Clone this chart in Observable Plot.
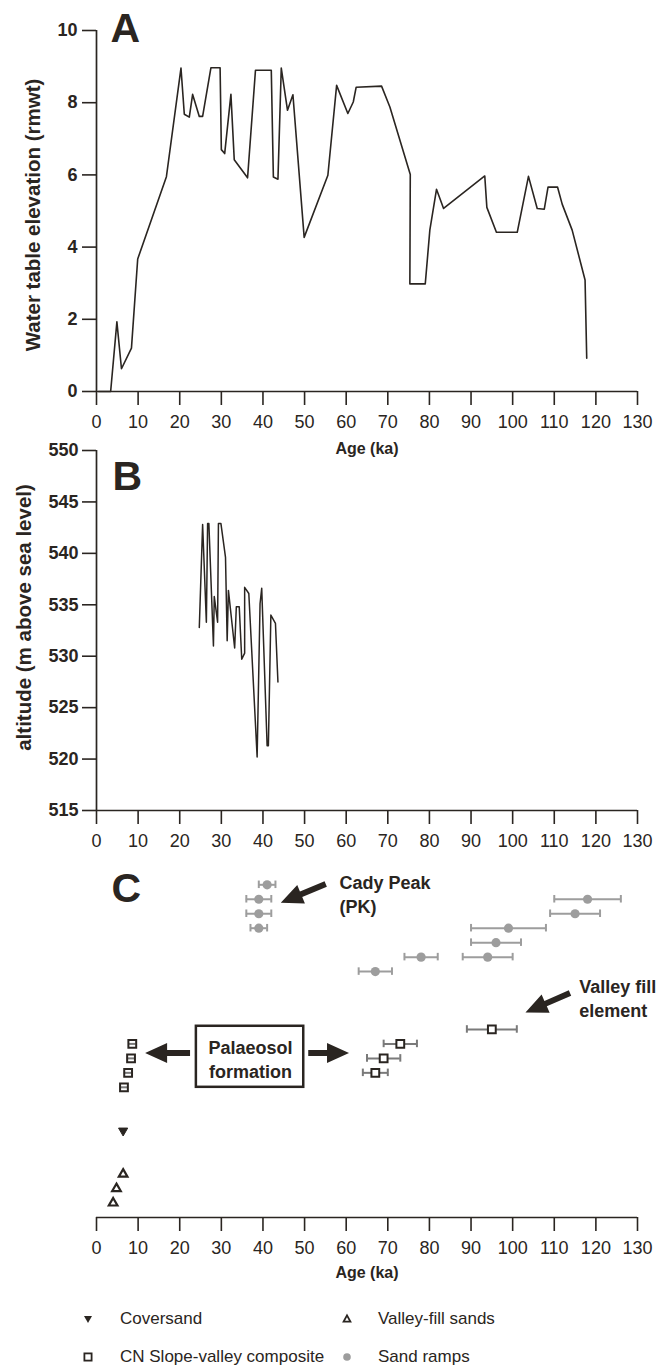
<!DOCTYPE html>
<html>
<head>
<meta charset="utf-8">
<script src="https://cdn.jsdelivr.net/npm/d3@7"></script>
<script src="https://cdn.jsdelivr.net/npm/@observablehq/plot@0.6"></script>
<style>
  body { margin: 0; background: #fff; }
  #fig { position: relative; width: 667px; height: 1367px; overflow: hidden;
         font-family: "Liberation Sans", Arial, sans-serif; color: #2a2521; background: #fff; }
  #fig > svg { position: absolute; left: 0; }
  .leg { position: absolute; height: 20px; display: flex; align-items: center; font-size: 17px; color: #2a2521; white-space: nowrap; }
</style>
</head>
<body>
<div id="fig"></div>
<script>
// ---------- DATA ----------
// Panel A: water table elevation (rmwt) vs age (ka)
const waterAge  = [0.5, 3.4, 4.9, 6.0, 8.4, 9.9, 16.8, 20.3, 21.1, 22.3, 23.1, 24.7, 25.5, 27.5, 29.7, 30.0, 30.8, 32.3, 33.1, 36.3, 38.2, 42.0, 42.5, 43.6, 44.4, 45.9, 47.2, 49.9, 55.6, 57.7, 60.4, 61.7, 62.4, 68.5, 70.5, 75.4, 75.3, 79.0, 80.1, 81.7, 83.4, 93.3, 93.8, 96.1, 101.1, 103.8, 105.9, 107.6, 108.5, 110.8, 111.9, 114.3, 117.4, 117.8];
const waterElev = [0, 0, 1.93, 0.63, 1.2, 3.67, 5.95, 8.96, 7.68, 7.6, 8.23, 7.62, 7.62, 8.97, 8.97, 6.7, 6.59, 8.23, 6.42, 5.92, 8.9, 8.9, 5.94, 5.88, 8.96, 7.79, 8.22, 4.27, 5.99, 8.48, 7.7, 8.02, 8.43, 8.46, 7.88, 6.01, 2.98, 2.98, 4.47, 5.6, 5.07, 5.97, 5.1, 4.41, 4.41, 5.96, 5.07, 5.05, 5.66, 5.66, 5.19, 4.47, 3.09, 0.92];

// Panel B: altitude (m a.s.l.) vs age (ka)
const altAge = [24.7, 25.5, 26.4, 26.7, 27.0, 28.1, 28.3, 29.1, 29.3, 29.9, 31.0, 31.4, 31.7, 33.2, 33.6, 34.3, 34.9, 35.6, 35.6, 36.6, 38.6, 39.3, 39.7, 41.0, 41.3, 41.9, 43.0, 43.6];
const altM   = [532.8, 542.8, 533.3, 542.9, 542.9, 531.0, 535.8, 533.3, 542.9, 542.9, 539.6, 531.5, 536.4, 530.8, 534.8, 534.8, 529.7, 530.3, 536.7, 536.1, 520.2, 535.1, 536.6, 521.3, 521.3, 534.0, 533.2, 527.5];

// Panel C: ages (ka) with errors, and sample row (order from top)
const sandRampAge = [41, 39, 39, 39, 118, 115, 99, 96, 94, 78, 67];
const sandRampErr = [2, 3, 3, 2, 8, 6, 9, 6, 6, 4, 4];
const sandRampRow = [0, 1, 2, 3, 1, 2, 3, 4, 5, 5, 6];

const slopeAge = [95, 73, 69, 67, 8.6, 8.3, 7.6, 6.6];
const slopeErr = [6, 4, 4, 3, 0.9, 0.9, 0.9, 0.9];
const slopeRow = [10, 11, 12, 13, 11, 12, 13, 14];

const coversandAge = [6.4];
const coversandRow = [17];

const valleySandAge = [6.4, 4.8, 4.0];
const valleySandRow = [20, 21, 22];

// Annotations (data units: age, row)
const noteText = ["Cady Peak\n(PK)", "Valley fill\nelement"];
const noteAge  = [58.4, 116.0];
const noteRow  = [0.6, 7.8];
const boxText = ["Palaeosol\nformation"];
const boxAge = [24.0, 49.8];
const boxRow = [9.78, 14.0];
const boxTextAge = [37.0];
const boxTextRow = [12.0];
const arrowFrom = [[55.2, -0.02], [113.9, 7.51], [22.6, 11.67], [51.0, 11.67]];
const arrowTo   = [[44.4, 1.27], [103.2, 8.86], [11.8, 11.67], [60.8, 11.67]];

const xTicks = d3.range(0, 131, 10);
const yTicksA = [0, 2, 4, 6, 8, 10];
const yTicksB = [515, 520, 525, 530, 535, 540, 545, 550];

const legendItems = ["Coversand", "Valley-fill sands", "CN Slope-valley composite", "Sand ramps"];

// ---------- STYLE ----------
const ink = "#2a2521";
const grey = "#9d9d9d";
const greyDark = "#7a7a7a";
const font = '"Liberation Sans", Arial, sans-serif';
const fig = document.getElementById("fig");

const common = {
  width: 667, marginLeft: 96, marginRight: 30,
  style: {background: "transparent", fontFamily: font, color: ink, overflow: "visible"}
};

function boldY(svg) {
  d3.select(svg).selectAll('g[aria-label="y-axis tick label"] text, g[aria-label="y-axis tick label"]')
    .attr("font-weight", "bold");
}

// ---------- PANEL A ----------
const waterRows = waterAge.map((a, i) => ({age: a, elev: waterElev[i]}));
const svgA = Plot.plot({
  ...common,
  height: 470, marginTop: 30, marginBottom: 79,
  x: {domain: [0, 130]},
  y: {domain: [0, 10]},
  marks: [
    Plot.axisX({ticks: xTicks, tickSize: 14, tickPadding: 10, fontSize: 18, strokeWidth: 1.6, label: null}),
    Plot.axisY({ticks: yTicksA, tickSize: 14, tickPadding: 5, fontSize: 18, fontWeight: "bold", strokeWidth: 1.6, label: null}),
    Plot.ruleX([0], {stroke: ink, strokeWidth: 1.7}),
    Plot.ruleY([0], {stroke: ink, strokeWidth: 1.7}),
    Plot.line(waterRows, {x: "age", y: "elev", stroke: ink, strokeWidth: 1.6}),
    Plot.text(["Water table elevation (rmwt)"], {text: d => d, frameAnchor: "left", textAnchor: "middle", lineAnchor: "middle", rotate: -90, dx: -63, dy: 4, fontSize: 20.5, fontWeight: "bold", fill: ink}),
    Plot.text(["Age (ka)"], {text: d => d, frameAnchor: "bottom", dy: 62, fontSize: 16, fontWeight: "bold", fill: ink}),
    Plot.text(["A"], {text: d => d, frameAnchor: "top-left", dx: 14, dy: -18, fontSize: 41, fontWeight: "bold", fill: ink})
  ]
});
svgA.style.top = "0px";
fig.appendChild(svgA);
boldY(svgA);

// ---------- PANEL B ----------
const altRows = altAge.map((a, i) => ({age: a, alt: altM[i]}));
const svgB = Plot.plot({
  ...common,
  height: 420, marginTop: 10, marginBottom: 50,
  x: {domain: [0, 130]},
  y: {domain: [515, 550]},
  marks: [
    Plot.axisX({ticks: xTicks, tickSize: 14, tickPadding: 10, fontSize: 18, strokeWidth: 1.6, label: null}),
    Plot.axisY({ticks: yTicksB, tickSize: 14, tickPadding: 4, fontSize: 18, fontWeight: "bold", strokeWidth: 1.6, label: null}),
    Plot.ruleX([0], {stroke: ink, strokeWidth: 1.7}),
    Plot.ruleY([515], {stroke: ink, strokeWidth: 1.7}),
    Plot.line(altRows, {x: "age", y: "alt", stroke: ink, strokeWidth: 1.5}),
    Plot.text(["altitude (m above sea level)"], {text: d => d, frameAnchor: "left", textAnchor: "middle", lineAnchor: "middle", rotate: -90, dx: -72, dy: -13, fontSize: 20.5, fontWeight: "bold", fill: ink}),
    Plot.text(["B"], {text: d => d, frameAnchor: "top-left", dx: 16, dy: 10, fontSize: 41, fontWeight: "bold", fill: ink})
  ]
});
svgB.style.top = "440px";
fig.appendChild(svgB);
boldY(svgB);

// ---------- PANEL C ----------
const sandRamps = sandRampAge.map((a, i) => ({age: a, err: sandRampErr[i], row: sandRampRow[i]}));
const slope = slopeAge.map((a, i) => ({age: a, err: slopeErr[i], row: slopeRow[i]}));
const slopeRight = slope.filter(d => d.err > 1);
const slopeLeft = slope.filter(d => d.err <= 1);
const coversand = coversandAge.map((a, i) => ({age: a, row: coversandRow[i]}));
const valleySand = valleySandAge.map((a, i) => ({age: a, row: valleySandRow[i]}));
const caps = arr => arr.flatMap(d => [{x: d.age - d.err, row: d.row}, {x: d.age + d.err, row: d.row}]);
const notes = noteText.map((t, i) => ({text: t, age: noteAge[i], row: noteRow[i]}));
const boxNotes = boxText.map((t, i) => ({text: t, age: boxTextAge[i], row: boxTextRow[i]}));
const arrows = arrowFrom.map((f, i) => ({x1: f[0], y1: f[1], x2: arrowTo[i][0], y2: arrowTo[i][1]}));

function arrowMark(list) {
  return (index, scales) => {
    const g = d3.create("svg:g").attr("aria-label", "arrows");
    for (const a of list) {
      const x1 = scales.x(a.x1), y1 = scales.y(a.y1), x2 = scales.x(a.x2), y2 = scales.y(a.y2);
      const len = Math.hypot(x2 - x1, y2 - y1);
      const ux = (x2 - x1) / len, uy = (y2 - y1) / len;
      const nx = -uy, ny = ux;
      const L = 22, Wd = 10, s = 3;
      const bx = x2 - ux * L, by = y2 - uy * L;
      const pts = [
        [x1 + nx * s, y1 + ny * s], [bx + nx * s, by + ny * s], [bx + nx * Wd, by + ny * Wd],
        [x2, y2], [bx - nx * Wd, by - ny * Wd], [bx - nx * s, by - ny * s], [x1 - nx * s, y1 - ny * s]
      ];
      g.append("path").attr("d", "M" + pts.map(p => p.join(",")).join("L") + "Z").attr("fill", ink);
    }
    return g.node();
  };
}

const svgC = Plot.plot({
  ...common,
  height: 450, marginTop: 34.3, marginBottom: 83,
  x: {domain: [0, 130]},
  y: {domain: [0, 23], reverse: true, axis: null},
  marks: [
    Plot.axisX({ticks: xTicks, tickSize: 14, tickPadding: 10, fontSize: 18, strokeWidth: 1.6, label: null}),
    Plot.ruleY([23], {stroke: ink, strokeWidth: 1.7}),
    // sand ramps
    Plot.ruleY(sandRamps, {y: "row", x1: d => d.age - d.err, x2: d => d.age + d.err, stroke: grey, strokeWidth: 2}),
    Plot.ruleX(caps(sandRamps), {x: "x", y1: d => d.row - 0.26, y2: d => d.row + 0.26, stroke: grey, strokeWidth: 2}),
    Plot.dot(sandRamps, {x: "age", y: "row", r: 4.6, fill: grey, stroke: "none"}),
    // slope-valley composite
    Plot.ruleY(slope, {y: "row", x1: d => d.age - d.err, x2: d => d.age + d.err, stroke: greyDark, strokeWidth: 2}),
    Plot.ruleX(caps(slopeRight), {x: "x", y1: d => d.row - 0.26, y2: d => d.row + 0.26, stroke: greyDark, strokeWidth: 2}),
    Plot.dot(slopeRight, {x: "age", y: "row", symbol: "square", r: 4.4, fill: "white", stroke: ink, strokeWidth: 2}),
    Plot.dot(slopeLeft, {x: "age", y: "row", symbol: "square", r: 4.4, fill: "none", stroke: ink, strokeWidth: 2}),
    // coversand
    Plot.dot(coversand, {x: "age", y: "row", symbol: "triangle", rotate: 180, r: 3.4, fill: ink, stroke: ink, strokeWidth: 1}),
    // valley-fill sands
    Plot.dot(valleySand, {x: "age", y: "row", symbol: "triangle", r: 3.2, fill: "white", stroke: ink, strokeWidth: 2.2}),
    // annotations
    Plot.rect([0], {x1: () => boxAge[0], x2: () => boxAge[1], y1: () => boxRow[0], y2: () => boxRow[1], fill: "white", stroke: ink, strokeWidth: 2.5}),
    Plot.text(notes, {x: "age", y: "row", text: "text", textAnchor: "start", lineHeight: 1.33, fontSize: 18, fontWeight: "bold", fill: ink, ariaLabel: "annot"}),
    Plot.text(boxNotes, {x: "age", y: "row", text: "text", textAnchor: "middle", lineHeight: 1.3, fontSize: 18, fontWeight: "bold", fill: ink, ariaLabel: "annot"}),
    arrowMark(arrows),
    Plot.text(["Age (ka)"], {text: d => d, frameAnchor: "bottom", dy: 60, fontSize: 16, fontWeight: "bold", fill: ink}),
    Plot.text(["C"], {text: d => d, frameAnchor: "top-left", dx: 15, dy: -12, fontSize: 41, fontWeight: "bold", fill: ink})
  ]
});
svgC.style.top = "850px";
fig.appendChild(svgC);
d3.select(svgC).selectAll('g[aria-label="annot"] text').style("letter-spacing", "1.8px");

// ---------- LEGEND ----------
const legendPos = [[88, 120, 1319], [347, 378, 1319], [88, 120, 1357], [347, 378, 1357]];
const legendSymbol = [
  `<path d="M-4,-3L4,-3L0,4Z" fill="${ink}"/>`,
  `<path d="M0,-3.6L3.4,2.6L-3.4,2.6Z" fill="white" stroke="${ink}" stroke-width="1.8"/>`,
  `<rect x="-3.6" y="-3.6" width="7.2" height="7.2" fill="white" stroke="${ink}" stroke-width="1.8"/>`,
  `<circle r="3.8" fill="${grey}"/>`
];
legendItems.forEach((label, i) => {
  const [sx, tx, cy] = legendPos[i];
  const sym = document.createElementNS("http://www.w3.org/2000/svg", "svg");
  sym.setAttribute("width", 16); sym.setAttribute("height", 16);
  sym.setAttribute("viewBox", "-8 -8 16 16");
  sym.style.position = "absolute"; sym.style.left = (sx - 8) + "px"; sym.style.top = (cy - 8) + "px";
  sym.innerHTML = legendSymbol[i];
  fig.appendChild(sym);
  const t = document.createElement("div");
  t.className = "leg";
  t.style.left = tx + "px"; t.style.top = (cy - 10) + "px";
  t.textContent = label;
  fig.appendChild(t);
});
</script>
</body>
</html>
